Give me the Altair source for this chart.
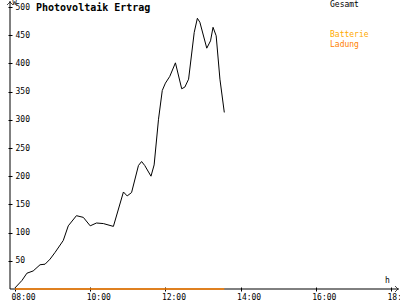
import altair as alt
import pandas as pd

# ---- data ----
times = ["08:00", "08:11", "08:19", "08:29", "08:40", "08:48", "08:56", "09:04",
         "09:17", "09:25", "09:38", "09:49", "10:00", "10:10", "10:21", "10:37",
         "10:53", "10:59", "11:06", "11:17", "11:22", "11:27", "11:37", "11:42",
         "11:49", "11:55", "12:00", "12:07", "12:16", "12:26", "12:31", "12:37",
         "12:46", "12:51", "12:55", "13:06", "13:12", "13:16", "13:21", "13:27",
         "13:34"]
gesamt = [2, 15, 28, 32, 43, 44, 53, 65,
          86, 112, 130, 127, 112, 117, 116, 111,
          172, 165, 171, 219, 226, 219, 200, 220,
          301, 352, 365, 377, 401, 355, 358, 372,
          455, 480, 473, 427, 440, 464, 449, 372,
          313]
ladung_times = ["08:00", "13:34"]
ladung = [0, 0]

x_ticks = [8, 10, 12, 14, 16, 18]
y_ticks = [50, 100, 150, 200, 250, 300, 350, 400, 450, 500]

title_text = "Photovoltaik Ertrag"
legend_labels = ["Gesamt", "Batterie", "Ladung"]
legend_colors = ["#000000", "#ffaa00", "#ff8000"]


def to_h(t):
    hh, mm = t.split(":")
    return int(hh) + int(mm) / 60.0


df = pd.DataFrame({"h": [to_h(t) for t in times], "W": gesamt})
df_l = pd.DataFrame({"h": [to_h(t) for t in ladung_times], "W": ladung})
one = pd.DataFrame({"a": [0]})

FONT = "DejaVu Sans Mono"
W, H = 381, 282

xscale = alt.Scale(domain=[7.8667, 18], nice=False, zero=False)
yscale = alt.Scale(domain=[0, 500], nice=False)

xaxis = alt.Axis(
    values=x_ticks, labelExpr="(datum.value < 10 ? '0' : '') + datum.value + ':00'",
    orient="bottom", offset=-2, tickSize=4, domain=False, grid=False,
    labelAlign="left", labelOffset=-4, labelPadding=2, labelFont=FONT,
    labelFontSize=8, labelColor="black", tickColor="black",
    labelOverlap=False, labelFlush=False, labelBound=False,
    title="h", titleX=377, titleY=-7, titleAngle=0, titleAlign="center",
    titleBaseline="middle", titleFont=FONT, titleFontSize=8,
    titleFontWeight="normal", titleColor="black",
)
yaxis = alt.Axis(
    values=y_ticks, orient="left", offset=-2, tickSize=4, domain=False,
    grid=False, labelAlign="left", labelPadding=-7, labelBaseline="middle",
    labelOverlap=False, labelFlush=False, labelBound=False,
    labelFont=FONT, labelFontSize=8, labelColor="black", tickColor="black",
    title="W", titleX=2, titleY=-5, titleAngle=0, titleAlign="center",
    titleBaseline="middle", titleFont=FONT, titleFontSize=7,
    titleFontWeight="normal", titleColor="black",
)

line_g = alt.Chart(df).mark_line(color="black", strokeWidth=1).encode(
    x=alt.X("h:Q", scale=xscale, axis=xaxis),
    y=alt.Y("W:Q", scale=yscale, axis=yaxis),
)
line_l = alt.Chart(df_l).mark_line(color="#ff8000", strokeWidth=1.5).encode(
    x=alt.X("h:Q", scale=xscale, axis=xaxis),
    y=alt.Y("W:Q", scale=yscale, axis=yaxis),
)

ydom = alt.Chart(one).mark_rule(color="black", strokeWidth=1).encode(
    x=alt.value(0), y=alt.value(-6), y2=alt.value(H))
xdom = alt.Chart(one).mark_rule(color="black", strokeWidth=1).encode(
    x=alt.value(0), x2=alt.value(389), y=alt.value(H))
yarrow = alt.Chart(one).mark_point(shape="M-1,1L0,0L1,1", filled=False,
                                   color="black", size=36, strokeWidth=1).encode(
    x=alt.value(0), y=alt.value(-5))
xarrow = alt.Chart(one).mark_point(shape="M-1,-1L0,0L-1,1", filled=False,
                                   color="black", size=36, strokeWidth=1).encode(
    x=alt.value(388), y=alt.value(H))

title = alt.Chart(one).mark_text(text=title_text, font=FONT, fontSize=10,
                                 fontWeight="bold", align="left",
                                 baseline="middle", color="black").encode(
    x=alt.value(26), y=alt.value(1))

leg_layers = []
for lbl, col, yy in zip(legend_labels, legend_colors, [-2, 28, 38]):
    leg_layers.append(
        alt.Chart(one).mark_text(text=lbl, font=FONT, fontSize=8, align="left",
                                 baseline="middle", color=col).encode(
            x=alt.value(320), y=alt.value(yy)))

chart = alt.layer(line_g, ydom, xdom, yarrow, xarrow, line_l, title, *leg_layers).properties(
    width=W, height=H,
    autosize=alt.AutoSizeParams(type="none"),
    padding={"left": 10, "top": 7, "right": 9, "bottom": 11},
    background="white",
).configure_view(stroke=None)

chart.save("out.html", embed_options={"renderer": "svg", "actions": False})
